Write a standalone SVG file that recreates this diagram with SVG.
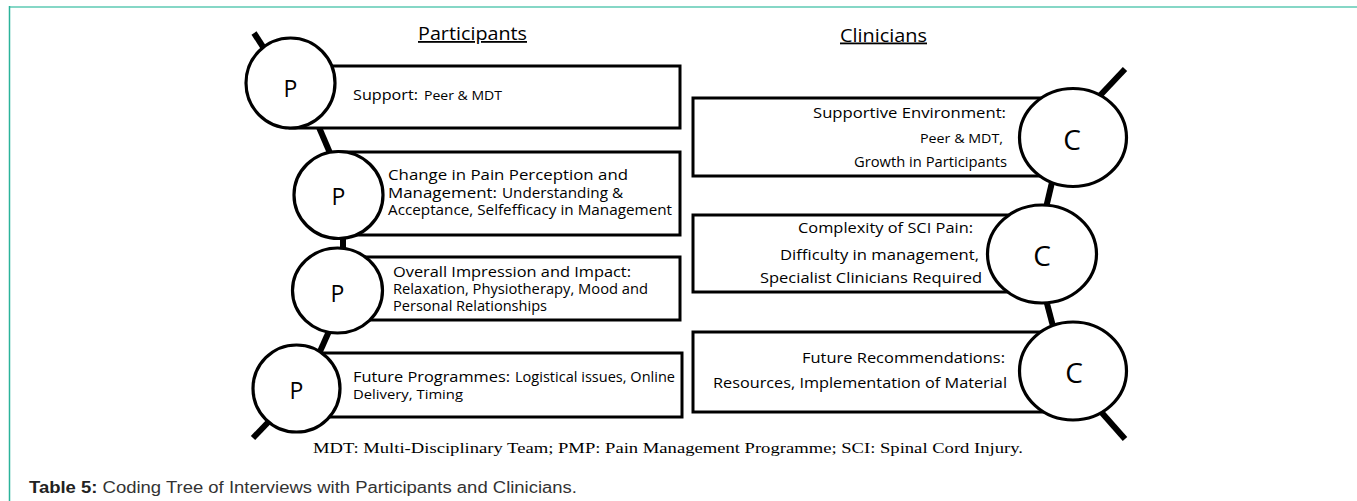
<svg xmlns="http://www.w3.org/2000/svg" width="1357" height="501" viewBox="0 0 1357 501">
  <style>
    .box { fill: #ffffff; stroke: #000000; stroke-width: 3; }
    .ring { fill: #ffffff; stroke: #000000; stroke-width: 3.2; }
    .link { stroke: #000000; stroke-width: 6; stroke-linecap: butt; fill: none; }
    .t { font-family: "Open Sans", "Noto Sans", "DejaVu Sans", sans-serif; fill: #000000; }
    .big { font-size: 15px; }
    .sm { font-size: 14px; }
    .head { font-size: 18px; text-decoration: underline; }
    .pl { font-size: 23px; }
    .cl { font-size: 28px; }
    .note { font-family: "Liberation Serif", "Times New Roman", serif; font-size: 15px; fill: #000000; }
    .cap { font-family: "Liberation Sans", Arial, sans-serif; font-size: 16px; fill: #333333; }
  </style>

  <!-- page frame -->
  <g id="frame">
    <line x1="9" y1="7" x2="1357" y2="7" stroke="#86d7c6" stroke-width="2"/>
    <line x1="9.5" y1="6" x2="9.5" y2="501" stroke="#2bb39a" stroke-width="1.5"/>
  </g>

  <!-- column headings -->
  <g id="headings">
    <text class="t head" x="418" y="40" textLength="109" lengthAdjust="spacingAndGlyphs">Participants</text>
    <text class="t head" x="840" y="41.5" textLength="87" lengthAdjust="spacingAndGlyphs">Clinicians</text>
  </g>

  <!-- spine connectors -->
  <g id="connectors">
    <line class="link" x1="254" y1="33" x2="274" y2="64"/>
    <line class="link" x1="315" y1="118" x2="333" y2="160"/>
    <line class="link" x1="343" y1="230" x2="343" y2="255"/>
    <line class="link" x1="334" y1="320" x2="318" y2="356"/>
    <line class="link" x1="277" y1="413" x2="253" y2="438"/>

    <line class="link" x1="1125" y1="69" x2="1092" y2="104"/>
    <line class="link" x1="1053" y1="178" x2="1045" y2="212"/>
    <line class="link" x1="1045" y1="296" x2="1054" y2="330"/>
    <line class="link" x1="1095" y1="405" x2="1125" y2="439"/>
  </g>

  <!-- participant themes -->
  <g id="p1">
    <rect class="box" x="290" y="66" width="390" height="62"/>
    <ellipse class="ring" cx="290.5" cy="83" rx="44.5" ry="45"/>
    <text class="t pl" x="290.5" y="97" text-anchor="middle">P</text>
    <text class="t big" x="353" y="100" textLength="65" lengthAdjust="spacingAndGlyphs">Support:</text>
    <text class="t" font-size="13.5" x="424" y="100" textLength="78" lengthAdjust="spacingAndGlyphs">Peer &amp; MDT</text>
  </g>

  <g id="p2">
    <rect class="box" x="338" y="152" width="342" height="83"/>
    <ellipse class="ring" cx="338.5" cy="195" rx="44.5" ry="43.5"/>
    <text class="t pl" x="338.5" y="205" text-anchor="middle">P</text>
    <text class="t big" x="388" y="180" textLength="240" lengthAdjust="spacingAndGlyphs">Change in Pain Perception and</text>
    <text class="t big" x="388" y="197.5" textLength="109" lengthAdjust="spacingAndGlyphs">Management:</text>
    <text class="t sm" x="502" y="197.5" textLength="121" lengthAdjust="spacingAndGlyphs">Understanding &amp;</text>
    <text class="t sm" x="388" y="215" textLength="284" lengthAdjust="spacingAndGlyphs">Acceptance, Selfefficacy in Management</text>
  </g>

  <g id="p3">
    <rect class="box" x="338" y="257" width="342" height="63"/>
    <ellipse class="ring" cx="337.5" cy="290.5" rx="45" ry="42.5"/>
    <text class="t pl" x="337.5" y="302" text-anchor="middle">P</text>
    <text class="t big" x="393" y="277" textLength="238" lengthAdjust="spacingAndGlyphs">Overall Impression and Impact:</text>
    <text class="t sm" x="393" y="294" textLength="255" lengthAdjust="spacingAndGlyphs">Relaxation, Physiotherapy, Mood and</text>
    <text class="t sm" x="393" y="311" textLength="154" lengthAdjust="spacingAndGlyphs">Personal Relationships</text>
  </g>

  <g id="p4">
    <rect class="box" x="297" y="353" width="385" height="64"/>
    <ellipse class="ring" cx="296.5" cy="388.5" rx="43.5" ry="43.5"/>
    <text class="t pl" x="296.5" y="399" text-anchor="middle">P</text>
    <text class="t sm" x="353" y="381.5" textLength="157" lengthAdjust="spacingAndGlyphs">Future Programmes:</text>
    <text class="t sm" x="515" y="381.5" textLength="160" lengthAdjust="spacingAndGlyphs">Logistical issues, Online</text>
    <text class="t" font-size="13.5" x="353" y="398.5" textLength="110" lengthAdjust="spacingAndGlyphs">Delivery, Timing</text>
  </g>

  <!-- clinician themes -->
  <g id="c1">
    <rect class="box" x="693" y="98" width="380" height="78"/>
    <ellipse class="ring" cx="1073" cy="137.5" rx="53.5" ry="49"/>
    <text class="t cl" x="1072" y="150" text-anchor="middle">C</text>
    <text class="t big" x="813" y="118" textLength="193" lengthAdjust="spacingAndGlyphs">Supportive Environment:</text>
    <text class="t" font-size="13.5" x="920" y="143" textLength="83" lengthAdjust="spacingAndGlyphs">Peer &amp; MDT,</text>
    <text class="t" font-size="14" x="854" y="167" textLength="153" lengthAdjust="spacingAndGlyphs">Growth in Participants</text>
  </g>

  <g id="c2">
    <rect class="box" x="693" y="215" width="350" height="77"/>
    <ellipse class="ring" cx="1042" cy="254" rx="54.5" ry="49"/>
    <text class="t cl" x="1042" y="266" text-anchor="middle">C</text>
    <text class="t big" x="798" y="233" textLength="175" lengthAdjust="spacingAndGlyphs">Complexity of SCI Pain:</text>
    <text class="t" font-size="14.5" x="780" y="260" textLength="199" lengthAdjust="spacingAndGlyphs">Difficulty in management,</text>
    <text class="t" font-size="14.5" x="760" y="283" textLength="222" lengthAdjust="spacingAndGlyphs">Specialist Clinicians Required</text>
  </g>

  <g id="c3">
    <rect class="box" x="693" y="332" width="380" height="80"/>
    <ellipse class="ring" cx="1073" cy="371" rx="53.5" ry="49"/>
    <text class="t cl" x="1074" y="383" text-anchor="middle">C</text>
    <text class="t big" x="802" y="363" textLength="203" lengthAdjust="spacingAndGlyphs">Future Recommendations:</text>
    <text class="t big" x="713" y="388" textLength="294" lengthAdjust="spacingAndGlyphs">Resources, Implementation of Material</text>
  </g>

  <!-- footnote and caption -->
  <g id="notes">
    <text class="note" x="313" y="453" textLength="710" lengthAdjust="spacingAndGlyphs">MDT: Multi-Disciplinary Team; PMP: Pain Management Programme; SCI: Spinal Cord Injury.</text>
    <text class="cap" x="29" y="493" textLength="548" lengthAdjust="spacingAndGlyphs"><tspan font-weight="bold" fill="#222222">Table 5:</tspan> Coding Tree of Interviews with Participants and Clinicians.</text>
  </g>
</svg>
